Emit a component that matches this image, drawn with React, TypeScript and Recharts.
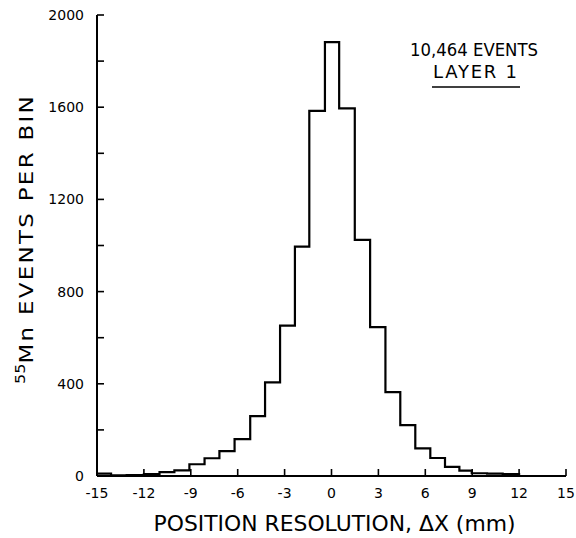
import React from 'react';
import { LineChart, Line, XAxis, YAxis } from 'recharts';

// left edge of each bin (mm) and the count in that bin; last entry closes the histogram
const binEdges = [
    -15.0, -14.1, -13.1, -12.0, -11.0, -10.05, -9.09, -8.12, -7.17, -6.2,
    -5.2, -4.25, -3.29, -2.34, -1.42, -0.42, 0.49, 1.49, 2.47, 3.45,
    4.4, 5.36, 6.32, 7.26, 8.18, 8.97, 9.95, 10.95, 12.0,
];
const binCounts = [
    10, 3, 4, 8, 17, 24, 51, 77, 108, 160,
    260, 406, 652, 995, 1584, 1882, 1595, 1024, 646, 364,
    221, 120, 78, 40, 23, 12, 10, 8, 0,
];

const xTicks = [-15, -12, -9, -6, -3, 0, 3, 6, 9, 12, 15];
const yTicks = [0, 200, 400, 600, 800, 1000, 1200, 1400, 1600, 1800, 2000];

const data = binEdges.map((x, i) => ({ x, count: binCounts[i] }));

const FONT = '"DejaVu Sans", "Liberation Sans", sans-serif';
const axisStroke = { stroke: '#000', strokeWidth: 2 };
const tickStroke = { stroke: '#000', strokeWidth: 1.6 };
const tickText = { fill: '#000', fontSize: 14, fontFamily: FONT };

const XTitle = ({ viewBox }: any) => {
    const { x, y, width } = viewBox;
    return (
        <text
            x={x + width / 2 + 3}
            y={y + 55}
            textAnchor="middle"
            fontSize={21}
            fontFamily={FONT}
            fill="#000"
            textLength={362}
            lengthAdjust="spacingAndGlyphs"
        >
            POSITION RESOLUTION, ΔX (mm)
        </text>
    );
};

const YTitle = ({ viewBox }: any) => {
    const cx = 33;
    const cy = viewBox.y + 224;
    return (
        <text
            x={cx}
            y={cy}
            transform={`rotate(-90, ${cx}, ${cy})`}
            textAnchor="middle"
            fontSize={20}
            fontFamily={FONT}
            fill="#000"
            textLength={290}
            lengthAdjust="spacingAndGlyphs"
        >
            <tspan fontSize={14} dy={-8}>55</tspan>
            <tspan dy={8} letterSpacing={2}>Mn EVENTS PER BIN</tspan>
        </text>
    );
};

export default function App() {
    return (
        <div style={{ position: 'absolute', left: 0, top: 0, width: 576, height: 538, background: '#fff' }}>
            <LineChart width={576} height={538} data={data} margin={{ top: 15, right: 10, left: 0, bottom: 0 }}>
                <XAxis
                    dataKey="x"
                    type="number"
                    domain={[-15, 15]}
                    ticks={xTicks}
                    allowDataOverflow
                    height={62}
                    tickSize={-7}
                    tickMargin={19}
                    axisLine={axisStroke}
                    tickLine={tickStroke}
                    tick={tickText}
                    label={{ content: <XTitle /> }}
                />
                <XAxis
                    xAxisId="top"
                    orientation="top"
                    dataKey="x"
                    type="number"
                    domain={[-15, 15]}
                    ticks={xTicks}
                    allowDataOverflow
                    height={0}
                    tickSize={-7}
                    axisLine={axisStroke}
                    tickLine={tickStroke}
                    tick={false}
                />
                <YAxis
                    type="number"
                    domain={[0, 2000]}
                    ticks={yTicks}
                    allowDataOverflow
                    width={97}
                    tickSize={-7}
                    tickMargin={20}
                    axisLine={axisStroke}
                    tickLine={tickStroke}
                    tick={tickText}
                    tickFormatter={(v: number) => (v % 400 === 0 ? String(v) : '')}
                    label={{ content: <YTitle /> }}
                />
                <YAxis
                    yAxisId="right"
                    orientation="right"
                    type="number"
                    domain={[0, 2000]}
                    ticks={yTicks}
                    allowDataOverflow
                    width={0}
                    tickSize={-7}
                    axisLine={axisStroke}
                    tickLine={tickStroke}
                    tick={false}
                />
                <Line
                    type="stepAfter"
                    dataKey="count"
                    stroke="#000"
                    strokeWidth={2.2}
                    dot={false}
                    isAnimationActive={false}
                />
            </LineChart>
            <svg
                width={576}
                height={538}
                style={{ position: 'absolute', left: 0, top: 0, pointerEvents: 'none' }}
            >
                <text x={474} y={56} textAnchor="middle" fontSize={18} fontFamily={FONT} fill="#000"
                    textLength={128} lengthAdjust="spacingAndGlyphs">
                    10,464 EVENTS
                </text>
                <text x={475} y={78} textAnchor="middle" fontSize={18} fontFamily={FONT} fill="#000"
                    textLength={84} lengthAdjust="spacing">
                    LAYER 1
                </text>
                <line x1={432} x2={520} y1={87} y2={87} stroke="#000" strokeWidth={1.5} />
            </svg>
        </div>
    );
}
